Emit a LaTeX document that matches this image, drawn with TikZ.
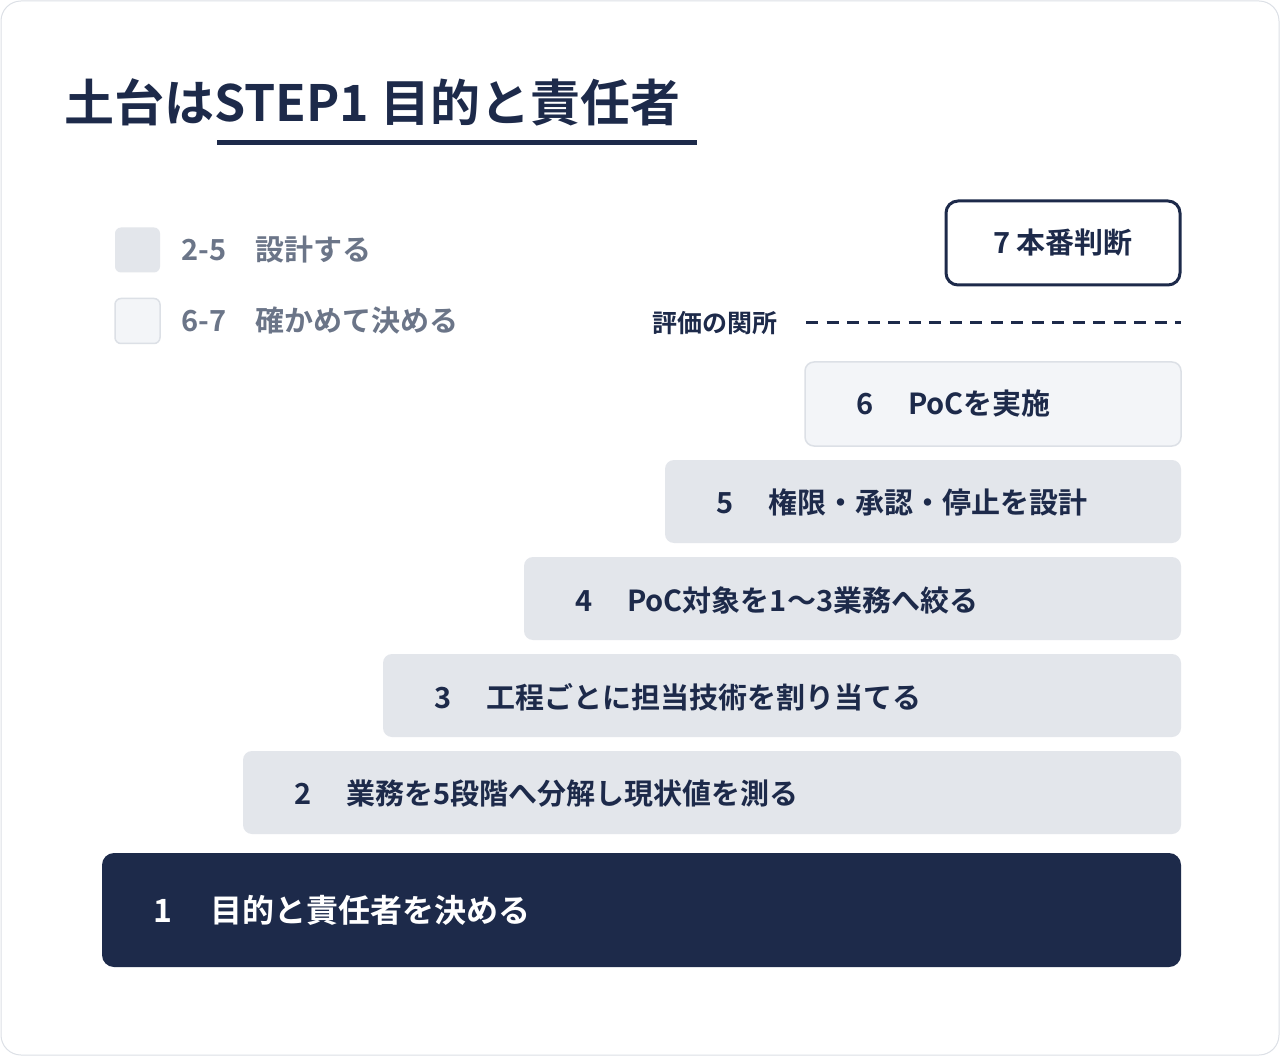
\documentclass[tikz,border=0pt]{standalone}
\usepackage{fontspec}
\setmainfont{Noto Sans CJK JP}[BoldFont={Noto Sans CJK JP Bold}]
\definecolor{navy}{HTML}{1D2A4A}
\definecolor{grayA}{HTML}{E3E6EB}
\definecolor{grayB}{HTML}{F3F5F8}
\definecolor{lineB}{HTML}{DCE0E6}
\definecolor{legtxt}{HTML}{6B7588}
\begin{document}
\begin{tikzpicture}[x=1pt,y=-1pt,
  stepA/.style={fill=grayA,draw=none,rounded corners=9pt},
  stepB/.style={fill=grayB,draw=lineB,line width=1.5pt,rounded corners=9pt},
  lbl/.style={anchor=west,font=\bfseries\fontsize{29}{32}\selectfont,text=navy,inner sep=0pt},
  leg/.style={anchor=west,font=\bfseries\fontsize{29}{32}\selectfont,text=legtxt,inner sep=0pt}]
\useasboundingbox (0,0) rectangle (1280,1056);
\draw[draw=lineB,line width=1pt,rounded corners=20pt,fill=white] (1,1) rectangle (1279,1055);
% title
\node[anchor=base west,inner sep=0pt,font=\bfseries\fontsize{50}{56}\selectfont,text=navy] (title) at (64,122) {土台はSTEP1 目的と責任者};
\draw[navy,line width=5pt] (217,143) -- (697,143);
% legend
\node[stepA,minimum width=45pt,minimum height=45pt,rounded corners=6pt] (l1) at (137.5,250) {};
\node[leg] (l1t) at (181,250) {2-5\hspace{1em}設計する};
\node[stepB,minimum width=45pt,minimum height=45pt,rounded corners=6pt] (l2) at (137.5,321) {};
\node[leg] (l2t) at (181,321) {6-7\hspace{1em}確かめて決める};
% step 7
\node[draw=navy,line width=3pt,fill=white,rounded corners=12pt,minimum width=234pt,minimum height=84pt,font=\bfseries\fontsize{29}{32}\selectfont,text=navy] (s7) at (1063,243) {7 本番判断};
\node[anchor=east,inner sep=0pt,font=\bfseries\fontsize{25}{28}\selectfont,text=navy] (gate) at (778,323) {評価の関所};
\coordinate (g1) at (806,323);
\coordinate (g2) at (1181,323);
\draw[navy,line width=3pt,dash pattern=on 12pt off 8.5pt] (g1) -- (g2);
% steps
\draw[stepB] (805,362) rectangle (1181,446) node[midway] (s6) {};
\node[lbl] at (856,404) {6\hspace{1.2em}PoCを実施};
\draw[stepA] (665,460) rectangle (1181,543) node[midway] (s5) {};
\node[lbl] at (716,502) {5\hspace{1.2em}権限・承認・停止を設計};
\draw[stepA] (524,557) rectangle (1181,640) node[midway] (s4) {};
\node[lbl] at (575,600) {4\hspace{1.2em}PoC対象を1〜3業務へ絞る};
\draw[stepA] (383,654) rectangle (1181,737) node[midway] (s3) {};
\node[lbl] at (434,697) {3\hspace{1.2em}工程ごとに担当技術を割り当てる};
\draw[stepA] (243,751) rectangle (1181,834) node[midway] (s2) {};
\node[lbl] at (294,794) {2\hspace{1.2em}業務を5段階へ分解し現状値を測る};
\draw[fill=navy,draw=none,rounded corners=12pt] (102,853) rectangle (1181,967) node[midway] (s1) {};
\node[lbl,text=white,font=\bfseries\fontsize{32}{36}\selectfont] at (153,910) {1\hspace{1.2em}目的と責任者を決める};
\end{tikzpicture}
\end{document}
